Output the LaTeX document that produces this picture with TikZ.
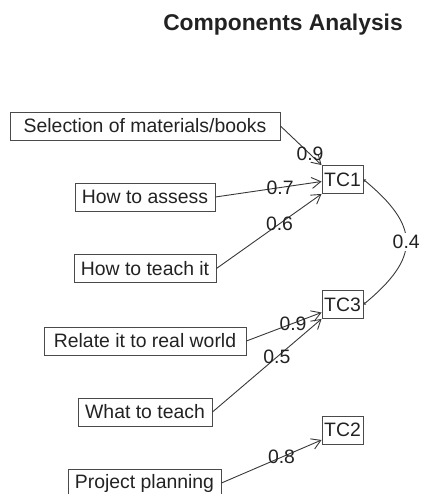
\documentclass[tikz,border=0pt]{standalone}
\usepackage{fontspec}
\setmainfont{Liberation Sans}
\usetikzlibrary{arrows.meta}
\definecolor{ink}{HTML}{222222}
\definecolor{rule}{HTML}{4A4A4A}
\tikzset{
  var/.style={draw=rule, line width=0.9pt, text=ink, inner sep=0pt,
    minimum height=28pt, font=\fontsize{19.4}{23}\selectfont},
  load/.style={draw=ink!90, line width=0.9pt,
    -{Straight Barb[length=9pt,width=11pt,line width=0.9pt]}},
  wt/.style={text=ink, inner sep=0pt, font=\fontsize{19.4}{23}\selectfont},
}
\begin{document}
\begin{tikzpicture}[x=1pt,y=-1pt]
\useasboundingbox (0,0) rectangle (422,494);

\node[text=ink, anchor=base, font=\fontsize{22.8}{26}\selectfont\bfseries]
  (title) at (283,31) {Components Analysis};

% observed variables
\node[var, minimum width=270pt] (sel)    at (145,126)   {Selection of materials/books};
\node[var, minimum width=140pt] (assess) at (145,197)   {How to assess};
\node[var, minimum width=142pt] (teach)  at (145,268.5) {How to teach it};
\node[var, minimum width=202pt] (relate) at (145,341)   {Relate it to real world};
\node[var, minimum width=134pt] (what)   at (145,412)   {What to teach};
\node[var, minimum width=153pt] (proj)   at (144.5,483) {Project planning};

% components
\node[var, minimum width=41pt] (tc1) at (342.5,179.5) {TC1};
\node[var, minimum width=41pt] (tc3) at (342.5,304.5) {TC3};
\node[var, minimum width=41pt] (tc2) at (342.5,430)   {TC2};

% loadings
\draw[load] (sel.east)    -- node[wt, pos=0.72] {0.9} (tc1.north west);
\draw[load] (assess.east) -- node[wt, pos=0.61] {0.7} ([yshift=-2pt]tc1.west);
\draw[load] (teach.east)  -- node[wt, pos=0.6]  {0.6} (tc1.south west);
\draw[load] (relate.east) -- node[wt, pos=0.62] {0.9} ([yshift=-8pt]tc3.west);
\draw[load] (what.east)   -- node[wt, pos=0.59] {0.5} (tc3.south west);
\draw[load] (proj.east)   -- node[wt, pos=0.6]  {0.8} ([yshift=-10pt]tc2.west);

% component correlation
\draw[draw=ink!90, line width=0.9pt,
  {Straight Barb[length=1.5pt,width=3pt]}-{Straight Barb[length=1.5pt,width=3pt]}]
  (tc1.east) .. controls +(57,47) and +(57,-47) .. node[wt, fill=white, inner sep=2pt] {0.4} (tc3.east);
\end{tikzpicture}
\end{document}
